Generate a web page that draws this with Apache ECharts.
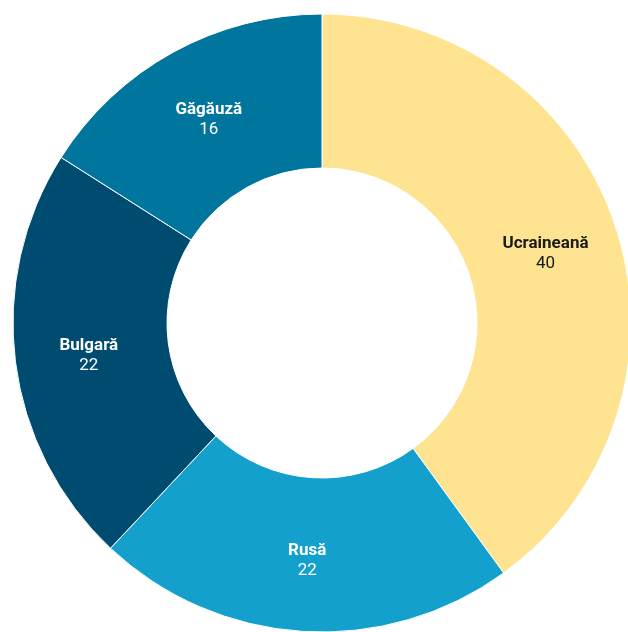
<!DOCTYPE html>
<html>
<head>
<meta charset="utf-8">
<style>
  html, body { margin: 0; padding: 0; background: #fff; }
  #chart { width: 628px; height: 632px; }
</style>
<script src="https://cdn.jsdelivr.net/npm/echarts@6/dist/echarts.min.js"></script>
</head>
<body>
<div id="chart"></div>
<script>
const categories = ['Ucraineană', 'Rusă', 'Bulgară', 'Găgăuză']
const values = [40, 22, 22, 16]
const colors = ['#fee491', '#14a0cc', '#004c70', '#00769e']
const labelColors = ['#1a1a1a', '#ffffff', '#ffffff', '#ffffff']

const chart = echarts.init(document.getElementById('chart'))

chart.setOption({
  animation: false,
  series: [
    {
      type: 'pie',
      center: [322, 323],
      radius: [155, 309],
      startAngle: 90,
      clockwise: true,
      avoidLabelOverlap: false,
      itemStyle: {
        borderColor: '#ffffff',
        borderWidth: 1
      },
      label: {
        position: 'inside',
        offset: [0, 3],
        fontFamily: 'Roboto',
        fontSize: 17,
        lineHeight: 20,
        formatter: '{n|{b}}\n{c}',
        rich: {
          n: { fontWeight: 'bold', fontSize: 17, lineHeight: 20, fontFamily: 'Roboto' }
        }
      },
      labelLine: { show: false },
      data: categories.map((name, i) => ({
        name: name,
        value: values[i],
        itemStyle: { color: colors[i] },
        label: { color: labelColors[i], rich: { n: { color: labelColors[i] } } }
      }))
    }
  ]
})
</script>
</body>
</html>
